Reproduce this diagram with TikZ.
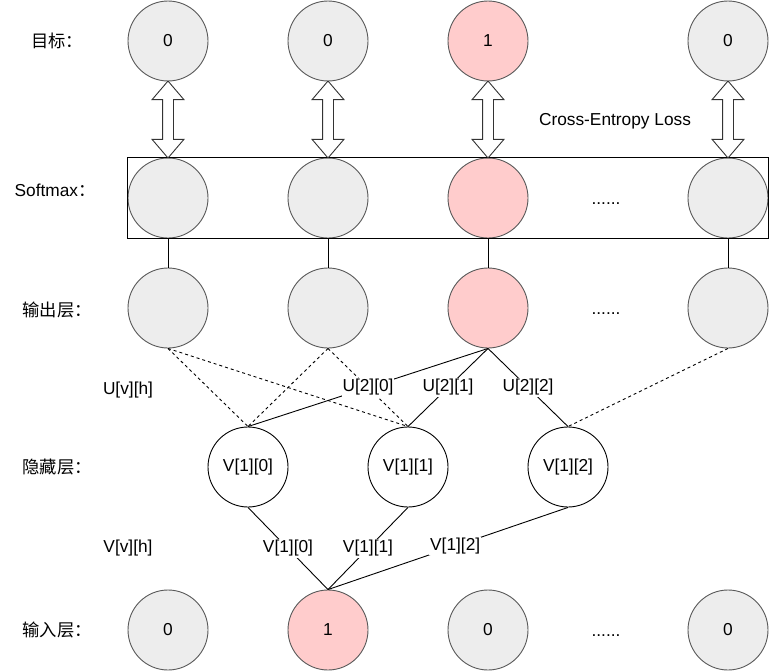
\documentclass[tikz,border=0pt]{standalone}
\usepackage{fontspec}
\setmainfont{Liberation Sans}
\newfontfamily\cjk{Noto Sans CJK SC}
\usetikzlibrary{shapes.arrows}
\usetikzlibrary{calc}
\usetikzlibrary{fit}

\begin{document}
\begin{tikzpicture}[x=1pt, y=-1pt, line width=0.9pt,
    font=\fontsize{17.3}{20}\selectfont,
    unit/.style={circle, draw=black!65, fill=black!7, minimum size=80pt, inner sep=0pt},
    hot_unit/.style={unit, fill=red!20},
    hidden_unit/.style={circle, draw=black, fill=white, minimum size=80pt, inner sep=0pt},
    loss_arrow/.style={double arrow, draw=black!80, fill=white, rotate=90,
        inner xsep=0pt, inner ysep=5pt, minimum height=77pt,
        double arrow head extend=10.5pt, double arrow tip angle=81},
    weight/.style={fill=white, inner sep=1pt}]
            \useasboundingbox (0,0) rectangle (769,670);

            % Layers
            \foreach \n/\x/\v/\s in {a/168/0/unit, b/328/0/unit, c/488/1/hot_unit, d/728/0/unit} {
                \node[\s] (tgt_\n) at (\x,41) {\v};
                \node[\s] (sm_\n) at (\x,198) {};
                \node[\s] (out_\n) at (\x,308) {};
            }
            \foreach \n/\x/\v in {a/248/0, b/408/1, c/568/2} {
                \node[hidden_unit] (hid_\n) at (\x,467) {V[1][\v]};
            }
            \foreach \n/\x/\v/\s in {a/168/0/unit, b/328/1/hot_unit, c/488/0/unit, d/728/0/unit} {
                \node[\s] (in_\n) at (\x,630) {\v};
            }
            \node[draw, fit=(sm_a)(sm_d), inner sep=0pt, line width=0.8pt] (sm_box) {};

            % Row labels
            \node (tgt_label) at (57,41) {\cjk 目标：};
            \node (sm_label) at (55,190) {Softmax\cjk ：};
            \node (out_label) at (57,310) {\cjk 输出层：};
            \node (hid_label) at (57,467) {\cjk 隐藏层：};
            \node (in_label) at (57,630) {\cjk 输入层：};
            \node (u_label) at (128,390) {U[v][h]};
            \node (v_label) at (128,548) {V[v][h]};
            \node (loss_label) at (615,121) {Cross-Entropy Loss};
            \foreach \y in {204,314,636} {
                \node at (606,\y) {......};
            }

            % Loss arrows
            \foreach \n in {a,b,c,d} {
                \node[loss_arrow] (loss_\n) at ($(tgt_\n.south)!0.5!(sm_\n.north)$) {};
                \draw (sm_\n.south) -- (out_\n.north);
            }

            % Weights
            \draw[dashed] (out_a.south) -- (hid_a.north);
            \draw[dashed] (out_a.south) -- (hid_b.north);
            \draw[dashed] (out_b.south) -- (hid_a.north);
            \draw[dashed] (out_b.south) -- (hid_b.north);
            \draw[dashed] (out_d.south) -- (hid_c.north);
            \draw (out_c.south) -- node[weight] {U[2][0]} (hid_a.north);
            \draw (out_c.south) -- node[weight] {U[2][1]} (hid_b.north);
            \draw (out_c.south) -- node[weight] {U[2][2]} (hid_c.north);
            \draw (in_b.north) -- node[weight] {V[1][0]} (hid_a.south);
            \draw (in_b.north) -- node[weight] {V[1][1]} (hid_b.south);
            \draw (in_b.north) -- node[weight, pos=0.53] {V[1][2]} (hid_c.south);
        \end{tikzpicture}
\end{document}
